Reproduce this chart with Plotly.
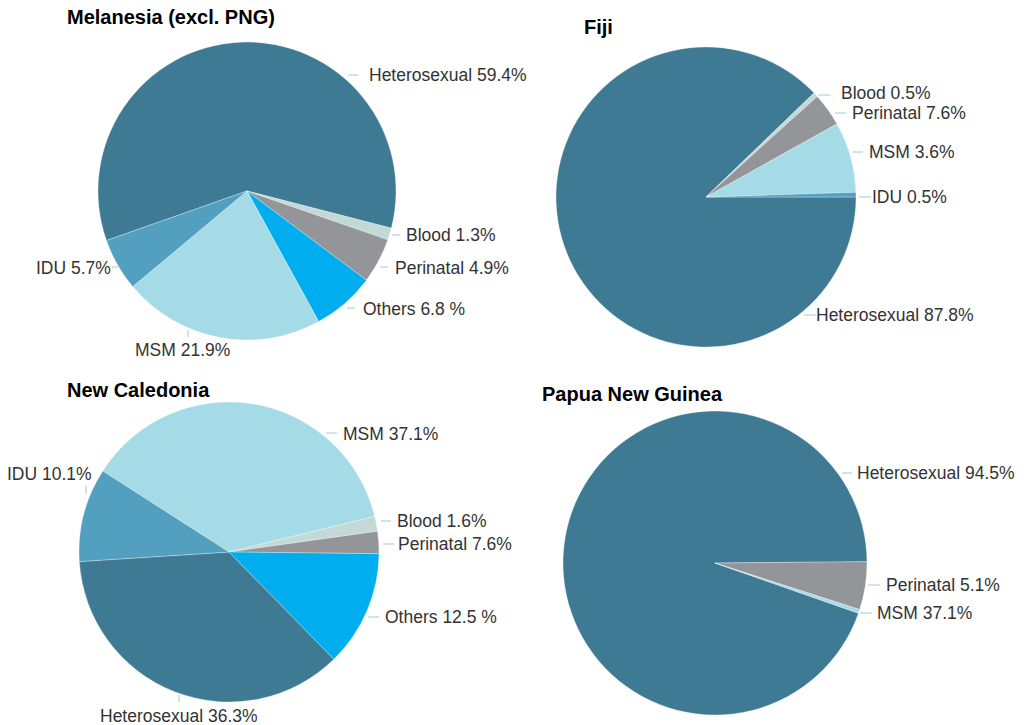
import plotly.graph_objects as go

# The page body adds an 8px margin; draw the figure to fill the rest of the window.
PAGE_MARGIN = 8
W, H = 1030 - PAGE_MARGIN, 725 - PAGE_MARGIN

# ---------------- data ----------------
mel_labels = ["Heterosexual", "Blood", "Perinatal", "Others", "MSM", "IDU"]
mel_values = [59.4, 1.3, 4.9, 6.8, 21.9, 5.7]
mel_text = ["Heterosexual 59.4%", "Blood 1.3%", "Perinatal 4.9%", "Others 6.8 %", "MSM 21.9%", "IDU 5.7%"]

fiji_labels = ["Heterosexual", "Blood", "Perinatal", "MSM", "IDU"]
fiji_values = [87.8, 0.5, 3.6, 7.6, 0.5]
fiji_text = ["Heterosexual 87.8%", "Blood 0.5%", "Perinatal 7.6%", "MSM 3.6%", "IDU 0.5%"]

nc_labels = ["MSM", "Blood", "Perinatal", "Others", "Heterosexual", "IDU"]
nc_values = [37.1, 1.6, 2.4, 12.5, 36.3, 10.1]
nc_text = ["MSM 37.1%", "Blood 1.6%", "Perinatal 7.6%", "Others 12.5 %", "Heterosexual 36.3%", "IDU 10.1%"]

png_labels = ["Heterosexual", "Perinatal", "MSM"]
png_values = [94.5, 5.1, 0.4]
png_text = ["Heterosexual 94.5%", "Perinatal 5.1%", "MSM 37.1%"]

titles = ["Melanesia (excl. PNG)", "Fiji", "New Caledonia", "Papua New Guinea"]

# ---------------- styles / layout ----------------
COLORS = {
    "Heterosexual": "#3e7a94",
    "IDU": "#539fbf",
    "MSM": "#a4dbe6",
    "Others": "#00adee",
    "Perinatal": "#939598",
    "Blood": "#c3d9d6",
}
LINE_COLOR = "#9cc9dc"
TEXT_COLOR = "#333333"
FONT = "Liberation Sans, Arial, sans-serif"

# pie geometry in window pixels: (cx, cy, r), and rotation
pies = [
    dict(labels=mel_labels, values=mel_values, text=mel_text, geo=(247, 191, 149), rot=-109.4),
    dict(labels=fiji_labels, values=fiji_values, text=fiji_text, geo=(706, 197, 150), rot=90),
    dict(labels=nc_labels, values=nc_values, text=nc_text, geo=(229, 552, 150), rot=-57.3),
    dict(labels=png_labels, values=png_values, text=png_text, geo=(715, 563, 152), rot=109.3),
]

title_pos = [(68, 17), (585, 27), (68, 390), (543, 394)]

# label placement (per pie, in the same order as the text list)
# kind 'r': horizontal leader line (x0->x1 at y), text left-anchored at (tx, ty)
# kind 'l': horizontal leader line, text right-anchored at (tx, ty)
# kind 'v': vertical leader line (x0 at y0->y1), text centered at (tx, ty)
# kind 'vl': vertical leader line, text right-anchored at (tx, ty)
label_pos = [
    [("r", 348, 358, 75, 369, 75), ("r", 392, 400, 235, 406, 235), ("r", 380, 388, 267, 395, 268),
     ("r", 347, 355, 308, 363, 309), ("v", 188, 330, 337, 182, 350), ("l", 118, 112, 267, 111, 268)],
    [("r", 804, 816, 315, 816, 315), ("r", 818, 830, 95, 841, 93), ("r", 835, 846, 113, 852, 113),
     ("r", 853, 863, 152, 869, 152), ("r", 859, 871, 197, 872, 197)],
    [("r", 326, 337, 433, 343, 434), ("r", 381, 391, 521, 397, 521), ("r", 383, 394, 544, 398, 544),
     ("r", 368, 379, 617, 385, 617), ("v", 179, 695, 702, 179, 716), ("vl", 86, 486, 494, 92, 474)],
    [("r", 842, 852, 473, 857, 473), ("r", 868, 880, 585, 886, 585), ("r", 860, 872, 613, 877, 613)],
]


def px(x):
    return (x - PAGE_MARGIN) / W


def py(y):
    return 1 - (y - PAGE_MARGIN) / H


fig = go.Figure()
annotations = []
shapes = []

for i, p in enumerate(pies):
    cx, cy, r = p["geo"]
    fig.add_trace(go.Pie(
        labels=p["labels"],
        values=p["values"],
        sort=False,
        direction="clockwise",
        rotation=p["rot"],
        marker=dict(colors=[COLORS[l] for l in p["labels"]],
                    line=dict(color="rgba(255,255,255,0.6)", width=0.5)),
        textinfo="none",
        hoverinfo="label+percent",
        showlegend=False,
        domain=dict(x=[px(cx - r), px(cx + r)], y=[py(cy + r), py(cy - r)]),
    ))
    tx, ty = title_pos[i]
    annotations.append(dict(
        text=f"<b>{titles[i]}</b>", x=px(tx - 2), y=py(ty), xref="paper", yref="paper",
        xanchor="left", yanchor="middle", showarrow=False, borderpad=0,
        font=dict(family=FONT, size=20, color="#000000"),
    ))
    for txt, pos in zip(p["text"], label_pos[i]):
        kind = pos[0]
        if kind in ("r", "l"):
            _, x0, x1, y, tx_, ty_ = pos
            shapes.append(dict(type="line", xref="paper", yref="paper",
                               x0=px(x0), x1=px(x1), y0=py(y), y1=py(y),
                               line=dict(color=LINE_COLOR, width=1)))
            xa = "left" if kind == "r" else "right"
            off = -2 if kind == "r" else 2
        else:
            _, x0, y0, y1, tx_, ty_ = pos
            shapes.append(dict(type="line", xref="paper", yref="paper",
                               x0=px(x0), x1=px(x0), y0=py(y0), y1=py(y1),
                               line=dict(color=LINE_COLOR, width=1)))
            xa = "center" if kind == "v" else "right"
            off = 0 if kind == "v" else 2
        annotations.append(dict(
            text=txt, x=px(tx_ + off), y=py(ty_), xref="paper", yref="paper",
            xanchor=xa, yanchor="middle", showarrow=False,
            font=dict(family=FONT, size=17.5, color=TEXT_COLOR),
        ))

fig.update_layout(
    width=W, height=H,
    margin=dict(l=0, r=0, t=0, b=0),
    paper_bgcolor="white", plot_bgcolor="white",
    annotations=annotations, shapes=shapes,
)

fig.write_html("out.html")
